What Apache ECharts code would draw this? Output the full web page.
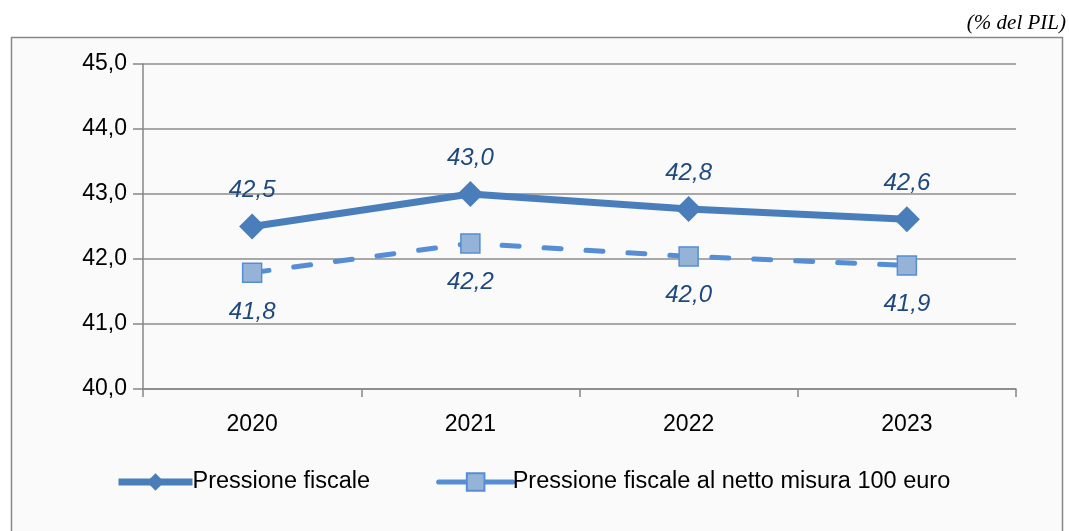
<!DOCTYPE html>
<html lang="it">
<head>
<meta charset="utf-8" />
<title>Pressione fiscale</title>
<script src="https://cdn.jsdelivr.net/npm/echarts@6/dist/echarts.min.js"></script>
<style>
  * { margin: 0; padding: 0; }
  html, body { background: #ffffff; }
  #chart-container { width: 1069px; height: 531px; }
</style>
</head>
<body>
<div id="chart-container"></div>
<script>
  var years = ["2020", "2021", "2022", "2023"];
  var pressione = [42.5, 43.0, 42.77, 42.61];
  var pressioneNetto = [41.79, 42.24, 42.04, 41.9];
  var nameA = "Pressione fiscale";
  var nameB = "Pressione fiscale al netto misura 100 euro";

  function virgola(v) {
    return v.toFixed(1).replace(".", ",");
  }

  var dom = document.getElementById("chart-container");
  var myChart = echarts.init(dom, null, { renderer: "canvas" });

  var font = "'Liberation Sans', Arial, sans-serif";

  var option = {
    animation: false,
    backgroundColor: "#ffffff",
    graphic: [
      {
        type: "rect",
        z: -10,
        shape: { x: 11.5, y: 37.5, width: 1051, height: 500 },
        style: { fill: "#fafafa", stroke: "#888888", lineWidth: 1.5 }
      },
      {
        type: "text",
        right: 3,
        top: 13,
        style: {
          text: "(% del PIL)",
          font: "italic 21px 'Liberation Serif', 'Times New Roman', serif",
          fill: "#000000"
        }
      }
    ],
    grid: { left: 143, right: 53, top: 64, bottom: 142 },
    legend: {
      bottom: 32,
      left: 110,
      itemGap: 66,
      itemWidth: 74,
      itemHeight: 22,
      textStyle: { fontFamily: font, fontSize: 23.5, color: "#000000", padding: [0, 0, 0, -5] },
      data: [
        { name: nameA, lineStyle: { width: 7 } },
        { name: nameB, lineStyle: { width: 5, type: "solid" } }
      ]
    },
    xAxis: {
      type: "category",
      data: years,
      boundaryGap: true,
      axisLine: { lineStyle: { color: "#868686", width: 1.5 } },
      axisTick: { show: true, length: 8, lineStyle: { color: "#868686", width: 1.5 } },
      axisLabel: { fontFamily: font, fontSize: 23, color: "#000000", margin: 24 }
    },
    yAxis: {
      type: "value",
      min: 40,
      max: 45,
      interval: 1,
      axisLine: { show: true, lineStyle: { color: "#868686", width: 1.5 } },
      axisTick: { show: true, length: 10, lineStyle: { color: "#868686", width: 1.5 } },
      splitLine: { lineStyle: { color: "#8c8c8c", width: 1.5 } },
      axisLabel: {
        fontFamily: font, fontSize: 23, color: "#000000", margin: 16,
        formatter: function (v) { return virgola(v); }
      }
    },
    series: [
      {
        name: nameA,
        type: "line",
        data: pressione,
        symbol: "diamond",
        symbolSize: 26,
        itemStyle: { color: "#4a7ebb" },
        lineStyle: { color: "#4a7ebb", width: 7 },
        label: {
          show: true,
          position: "top",
          distance: 11,
          fontFamily: font,
          fontStyle: "italic",
          fontSize: 24,
          color: "#1f497d",
          formatter: function (p) { return virgola(p.value); }
        },
        z: 3
      },
      {
        name: nameB,
        type: "line",
        data: pressioneNetto,
        symbol: "rect",
        symbolSize: 19,
        itemStyle: { color: "#95b3d7", borderColor: "#558ed5", borderWidth: 1.5 },
        lineStyle: { color: "#558ed5", width: 5, type: [17, 25], cap: "round" },
        label: {
          show: true,
          position: "bottom",
          distance: 17,
          fontFamily: font,
          fontStyle: "italic",
          fontSize: 24,
          color: "#1f497d",
          formatter: function (p) { return virgola(p.value); }
        },
        z: 2
      }
    ]
  };

  myChart.setOption(option);
  window.addEventListener("resize", myChart.resize);
</script>
</body>
</html>
